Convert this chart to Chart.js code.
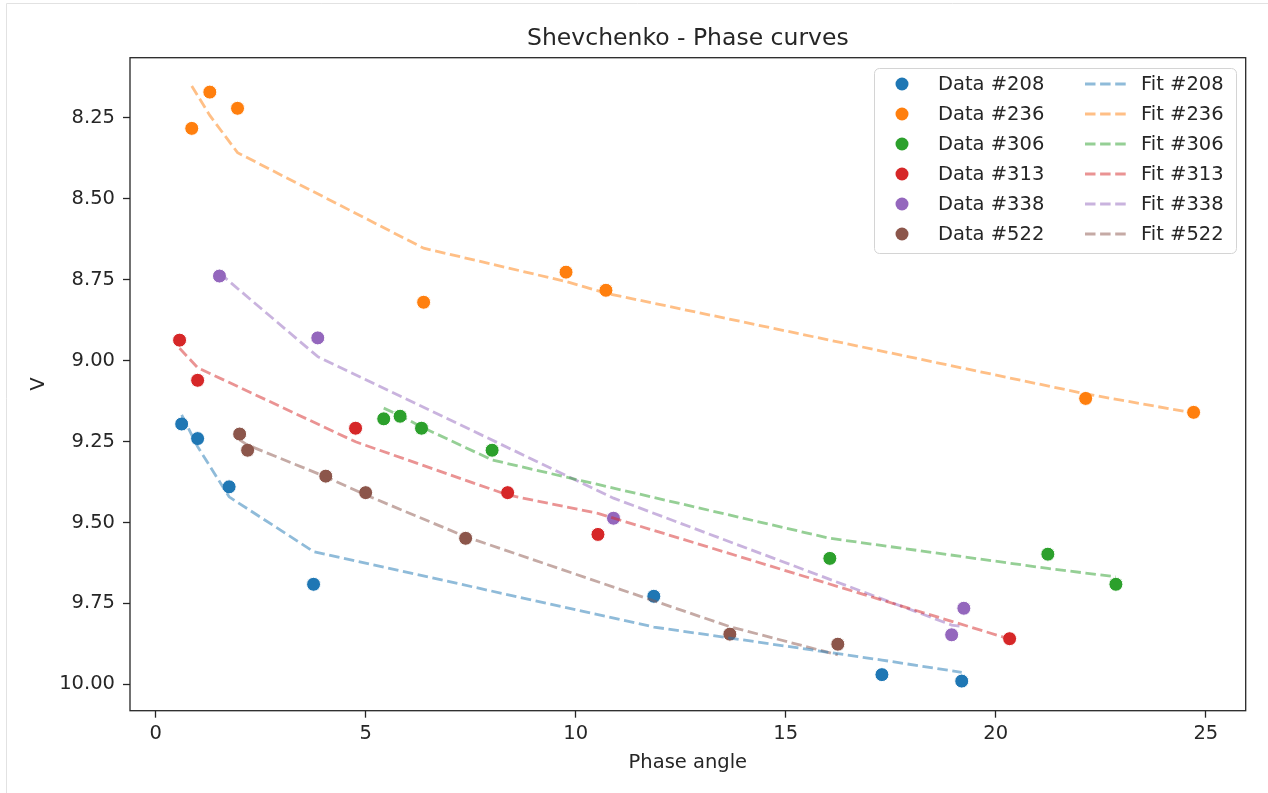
<!DOCTYPE html>
<html>
<head>
<meta charset="utf-8">
<script src="https://cdn.jsdelivr.net/npm/chart.js@4.4.0/dist/chart.umd.min.js"></script>
<style>
  html, body { margin: 0; padding: 0; background: #fff; }
  #wrap { width: 1268px; height: 793px; }
</style>
</head>
<body>
<div id="wrap"><canvas id="chart" width="1268" height="793"></canvas></div>
<script>
// phase angle (x), observed V, fitted V for each object
const angle208 = [0.62, 1.00, 1.75, 3.76, 11.86, 17.29, 19.19];
const v208     = [9.196, 9.241, 9.390, 9.691, 9.728, 9.970, 9.990];
const fit208   = [9.168, 9.266, 9.421, 9.590, 9.823, 9.925, 9.963];

const angle236 = [0.86, 1.29, 1.95, 6.38, 9.77, 10.72, 22.14, 24.71];
const v236     = [8.283, 8.171, 8.221, 8.820, 8.727, 8.783, 9.117, 9.160];
const fit236   = [8.152, 8.243, 8.358, 8.653, 8.756, 8.792, 9.103, 9.162];

const angle306 = [5.43, 5.82, 6.33, 8.01, 16.05, 21.24, 22.86];
const v306     = [9.180, 9.172, 9.209, 9.277, 9.611, 9.598, 9.691];
const fit306   = [9.147, 9.170, 9.205, 9.307, 9.549, 9.642, 9.668];

const angle313 = [0.57, 1.00, 4.76, 8.38, 10.53, 20.33];
const v313     = [8.937, 9.061, 9.209, 9.408, 9.537, 9.859];
const fit313   = [8.962, 9.022, 9.251, 9.415, 9.472, 9.860];

const angle338 = [1.52, 3.86, 10.90, 18.95, 19.24];
const v338     = [8.739, 8.930, 9.487, 9.847, 9.765];
const fit338   = [8.730, 8.988, 9.425, 9.817, 9.822];

const angle522 = [2.00, 2.19, 4.05, 5.00, 7.38, 13.67, 16.24];
const v522     = [9.227, 9.277, 9.357, 9.408, 9.549, 9.845, 9.876];
const fit522   = [9.245, 9.261, 9.359, 9.415, 9.544, 9.822, 9.909];

const names  = ['208', '236', '306', '313', '338', '522'];
const colors = ['#1f77b4', '#ff7f0e', '#2ca02c', '#d62728', '#9467bd', '#8c564b'];
const fades  = ['rgba(31,119,180,0.5)', 'rgba(255,127,14,0.5)', 'rgba(44,160,44,0.5)',
                'rgba(214,39,40,0.5)', 'rgba(148,103,189,0.5)', 'rgba(140,86,75,0.5)'];

const xTicks = [0, 5, 10, 15, 20, 25];
const yTicks = [8.25, 8.5, 8.75, 9.0, 9.25, 9.5, 9.75, 10.0];

const series = [
    [angle208, v208, fit208],
    [angle236, v236, fit236],
    [angle306, v306, fit306],
    [angle313, v313, fit313],
    [angle338, v338, fit338],
    [angle522, v522, fit522]
];

const FONT = "'DejaVu Sans', sans-serif";
const INK = '#262626';

const points = (xs, ys) => xs.map((x, i) => ({x: x, y: ys[i]}));

const dataSets = series.map((s, i) => ({
    label: 'Data #' + names[i],
    data: points(s[0], s[1]),
    backgroundColor: colors[i],
    borderColor: '#ffffff',
    borderWidth: 1,
    pointRadius: 7,
    pointHoverRadius: 7,
    showLine: false,
    order: 2
}));

const fitSets = series.map((s, i) => ({
    label: 'Fit #' + names[i],
    data: points(s[0], s[2]),
    borderColor: fades[i],
    backgroundColor: fades[i],
    borderWidth: 2.8,
    borderDash: [10.5, 4.6],
    pointRadius: 0,
    showLine: true,
    fill: false,
    tension: 0,
    order: 1
}));

const decor = {
    id: 'decor',
    beforeDraw(chart) {
        const ctx = chart.ctx;
        ctx.save();
        ctx.fillStyle = '#fff';
        ctx.fillRect(0, 0, chart.width, chart.height);
        ctx.strokeStyle = '#e2e2e2';
        ctx.lineWidth = 1;
        ctx.beginPath();
        ctx.moveTo(6.5, chart.height);
        ctx.lineTo(6.5, 3.5);
        ctx.lineTo(chart.width, 3.5);
        ctx.stroke();
        ctx.restore();
    },
    afterDraw(chart) {
        const ctx = chart.ctx, a = chart.chartArea;
        ctx.save();
        // axes frame
        ctx.strokeStyle = INK;
        ctx.lineWidth = 1.3;
        ctx.strokeRect(a.left, a.top, a.right - a.left, a.bottom - a.top);

        const cx = (a.left + a.right) / 2;
        ctx.fillStyle = INK;
        ctx.textAlign = 'center';
        ctx.textBaseline = 'alphabetic';
        ctx.font = '23.5px ' + FONT;
        ctx.fillText('Shevchenko - Phase curves', cx, 45);
        ctx.font = '19.5px ' + FONT;
        ctx.fillText('Phase angle', cx, 768);
        ctx.save();
        ctx.translate(44, (a.top + a.bottom) / 2);
        ctx.rotate(-Math.PI / 2);
        ctx.textBaseline = 'alphabetic';
        ctx.fillText('V', 0, 0);
        ctx.restore();

        // legend, two columns, inside upper right
        const bx = 874.5, by = 68.5, bw = 362, bh = 185, r = 5;
        ctx.beginPath();
        ctx.moveTo(bx + r, by);
        ctx.arcTo(bx + bw, by, bx + bw, by + bh, r);
        ctx.arcTo(bx + bw, by + bh, bx, by + bh, r);
        ctx.arcTo(bx, by + bh, bx, by, r);
        ctx.arcTo(bx, by, bx + bw, by, r);
        ctx.closePath();
        ctx.fillStyle = 'rgba(255,255,255,0.8)';
        ctx.fill();
        ctx.strokeStyle = '#d4d4d4';
        ctx.lineWidth = 1;
        ctx.stroke();

        ctx.font = '19.5px ' + FONT;
        ctx.textAlign = 'left';
        ctx.textBaseline = 'middle';
        const ds = chart.data.datasets;
        const n = names.length;
        for (let i = 0; i < n; i++) {
            const y = 84 + i * 30;
            const d = ds[i];
            ctx.beginPath();
            ctx.arc(902, y, 6.5, 0, Math.PI * 2);
            ctx.fillStyle = d.backgroundColor;
            ctx.fill();
            ctx.fillStyle = INK;
            ctx.fillText(d.label, 938, y + 1);

            const f = ds[n + i];
            ctx.beginPath();
            ctx.setLineDash(f.borderDash);
            ctx.strokeStyle = f.borderColor;
            ctx.lineWidth = f.borderWidth;
            ctx.moveTo(1085, y);
            ctx.lineTo(1126, y);
            ctx.stroke();
            ctx.setLineDash([]);
            ctx.fillStyle = INK;
            ctx.fillText(f.label, 1141, y + 1);
        }
        ctx.restore();
    }
};

new Chart(document.getElementById('chart'), {
    type: 'scatter',
    data: { datasets: dataSets.concat(fitSets) },
    options: {
        responsive: false,
        animation: false,
        devicePixelRatio: 1,
        layout: { padding: { top: 57.7, right: 22.3, left: 0, bottom: 0 } },
        plugins: {
            legend: { display: false },
            title: { display: false },
            tooltip: { enabled: false }
        },
        scales: {
            x: {
                type: 'linear',
                min: -0.61,
                max: 25.95,
                afterFit(s) { s.height = 82.3; },
                afterBuildTicks(s) { s.ticks = xTicks.map(v => ({value: v})); },
                ticks: {
                    autoSkip: false,
                    maxRotation: 0,
                    padding: 5,
                    color: INK,
                    font: { family: FONT, size: 19.5 },
                    callback: v => String(v)
                },
                grid: { drawOnChartArea: false, tickLength: 7, tickWidth: 1.3, tickColor: INK },
                border: { display: false }
            },
            y: {
                type: 'linear',
                reverse: true,
                min: 8.0647,
                max: 10.0814,
                afterFit(s) { s.width = 130; },
                afterBuildTicks(s) { s.ticks = yTicks.map(v => ({value: v})); },
                ticks: {
                    autoSkip: false,
                    padding: 8,
                    color: INK,
                    font: { family: FONT, size: 19.5 },
                    callback: v => Number(v).toFixed(2)
                },
                grid: { drawOnChartArea: false, tickLength: 7, tickWidth: 1.3, tickColor: INK },
                border: { display: false }
            }
        }
    },
    plugins: [decor]
});
</script>
</body>
</html>
